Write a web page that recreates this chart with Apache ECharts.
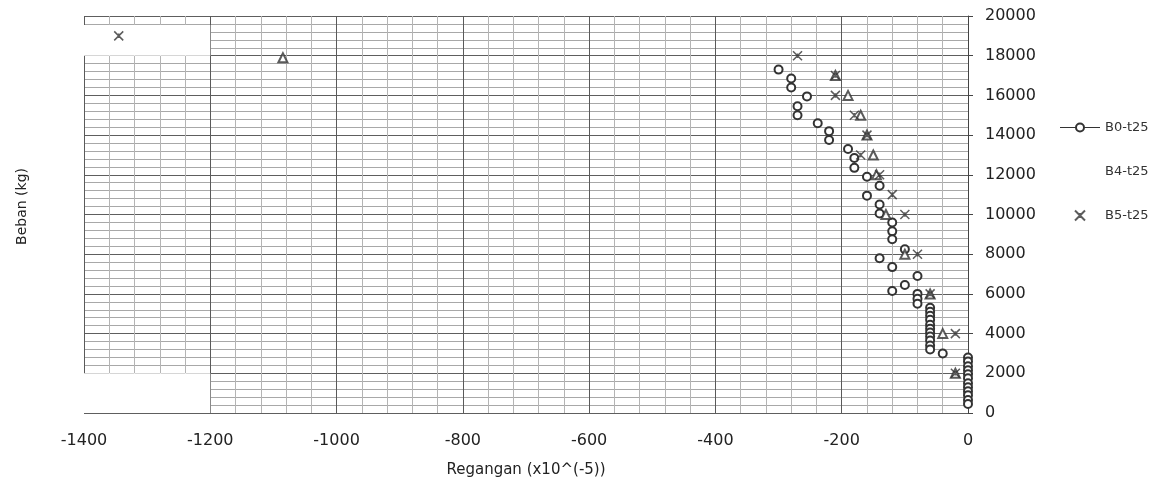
<!DOCTYPE html>
<html>
<head>
<meta charset="utf-8">
<script src="https://cdn.jsdelivr.net/npm/echarts@6/dist/echarts.min.js"></script>
<style>html,body{margin:0;padding:0;background:#fff;}#c{width:1154px;height:483px;}</style>
</head>
<body>
<div id="c"></div>
<script>
const seriesNames = ['B0-t25', 'B4-t25', 'B5-t25'];
const xTicks = [-1400, -1200, -1000, -800, -600, -400, -200, 0];
const yTicks = [0, 2000, 4000, 6000, 8000, 10000, 12000, 14000, 16000, 18000, 20000];
const b0 = [
  [-300,17300],[-280,16850],[-280,16400],[-255,15950],[-270,15450],[-270,15000],
  [-238,14600],[-220,14200],[-220,13750],[-190,13300],[-180,12850],[-180,12350],
  [-160,11900],[-140,11450],[-160,10950],[-140,10500],[-140,10050],[-120,9600],
  [-120,9150],[-120,8750],[-100,8250],[-140,7800],[-120,7350],[-80,6900],
  [-100,6450],[-120,6150],[-80,6000],[-80,5750],[-80,5500],
  [-60,5300],[-60,5100],[-60,4900],[-60,4700],[-60,4450],[-60,4250],[-60,4050],
  [-60,3850],[-60,3650],[-60,3400],[-60,3200],
  [-40,3000],
  [0,2800],[0,2600],[0,2350],[0,2150],[0,1950],[0,1750],[0,1500],[0,1300],
  [0,1100],[0,900],[0,650],[0,450]
];
const b4 = [
  [-1085,17900],[-210,17000],[-190,16000],[-170,15000],[-160,14000],[-150,13000],
  [-145,12000],[-130,10000],[-100,8000],[-60,6000],[-40,4000],[-20,2000]
];
const b5 = [
  [-1345,19000],[-270,18000],[-210,17000],[-210,16000],[-180,15000],[-160,14000],
  [-170,13000],[-140,12000],[-120,11000],[-100,10000],[-80,8000],[-60,6000],
  [-20,4000],[-20,2000]
];
const whiteBoxes = [
  [[-1400,18000],[-1200,19550]],
  [[-1400,0],[-1200,2000]]
];

const starPath = 'path://M0,0 L10,10 M10,0 L0,10 M5,2.5 L5,7.5';
const ink = '#333';
const fontFam = '"DejaVu Sans", sans-serif';

const chart = echarts.init(document.getElementById('c'), null, {renderer:'canvas'});
chart.setOption({
  backgroundColor: '#fff',
  animation: false,
  grid: { left: 84, right: 186, top: 16, bottom: 70, show: false, containLabel: false, outerBoundsMode: 'none' },
  legend: {
    orient: 'vertical', left: 1054, top: 116,
    itemWidth: 40, itemHeight: 10, itemGap: 31,
    textStyle: { color: '#333', fontSize: 13, fontFamily: fontFam },
    data: [
      { name: seriesNames[0], lineStyle: { width: 1, color: ink, opacity: 1 } },
      { name: seriesNames[1], itemStyle: { opacity: 0 } },
      { name: seriesNames[2] }
    ]
  },
  xAxis: {
    type: 'value', min: xTicks[0], max: xTicks[xTicks.length-1], interval: 200,
    name: 'Regangan (x10^(-5))', nameLocation: 'middle', nameGap: 50,
    nameTextStyle: { color: '#222', fontSize: 15, fontFamily: fontFam },
    axisLine: { show: false },
    axisTick: { show: false },
    axisLabel: { color: '#222', fontSize: 16, margin: 20, fontFamily: fontFam,
      formatter: v => String(v) },
    splitLine: { show: true, lineStyle: { color: '#5a5a5a', width: 1 } },
    minorTick: { show: false, splitNumber: 5 },
    minorSplitLine: { show: true, lineStyle: { color: '#b4b4b4', width: 1 } }
  },
  yAxis: {
    type: 'value', position: 'right', min: yTicks[0], max: yTicks[yTicks.length-1], interval: 2000,
    axisLine: { show: true, onZero: false, lineStyle: { color: '#444' } },
    axisTick: { show: true, inside: false, length: 5, lineStyle: { color: '#444' } },
    axisLabel: { color: '#222', fontSize: 16, margin: 17, fontFamily: fontFam,
      formatter: v => String(v) },
    splitLine: { show: true, lineStyle: { color: '#5e5e5e', width: 1 } },
    minorTick: { show: false, splitNumber: 5 },
    minorSplitLine: { show: true, lineStyle: { color: '#a8a8a8', width: 1 } }
  },
  graphic: [
    { type: 'text', left: 15, top: 168, rotation: Math.PI/2,
      style: { text: 'Beban (kg)', fill: '#222', font: '14px "DejaVu Sans", sans-serif' } }
  ],
  series: [
    { name: seriesNames[0], type: 'line', data: b0,
      symbol: 'emptyCircle', symbolSize: 8,
      lineStyle: { width: 0, opacity: 0 },
      itemStyle: { color: ink, borderColor: ink, borderWidth: 1.2 },
      markArea: { silent: true, itemStyle: { color: '#fff', opacity: 1 },
        data: whiteBoxes.map(b => [{ coord: b[0] }, { coord: b[1] }]) },
      z: 3 },
    { name: seriesNames[1], type: 'scatter', data: b4,
      symbol: 'emptyTriangle', symbolSize: 9,
      itemStyle: { color: ink, borderColor: ink, borderWidth: 1.4 }, z: 4 },
    { name: seriesNames[2], type: 'scatter', data: b5,
      symbol: starPath, symbolSize: 9,
      itemStyle: { color: 'rgba(0,0,0,0)', borderColor: ink, borderWidth: 1.5 }, z: 5 }
  ]
});
</script>
</body>
</html>
